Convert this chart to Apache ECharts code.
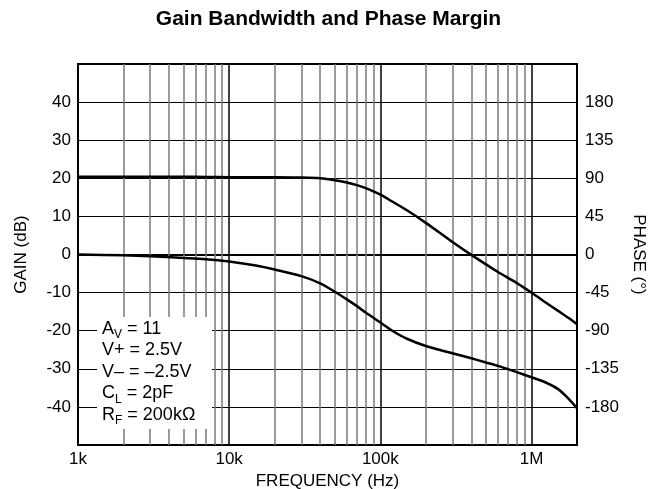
<!DOCTYPE html>
<html>
<head>
<meta charset="utf-8">
<script src="https://cdn.jsdelivr.net/npm/echarts@6/dist/echarts.min.js"></script>
<style>
  html, body { margin: 0; padding: 0; background: #fff; }
  #chart { width: 657px; height: 489px; }
</style>
</head>
<body>
<div id="chart"></div>
<script>
// frequency points (Hz)
var freq = [1000, 2000, 3000, 5000, 7000, 10000, 15000, 20000, 30000, 40000, 50000, 60000,
            70000, 80000, 100000, 120000, 150000, 200000, 300000, 400000, 500000, 600000,
            800000, 1000000, 1200000, 1500000, 1750000, 2000000];
// gain, dB (left axis)
var gain = [20.4, 20.4, 20.4, 20.4, 20.35, 20.3, 20.3, 20.3, 20.2, 20.0, 19.5, 18.9,
            18.2, 17.4, 15.7, 13.9, 11.6, 8.3, 3.3, -0.1, -2.6, -4.6,
            -7.5, -10, -12.2, -14.8, -16.6, -18.3];
// phase, degrees (right axis)
var phase = [0, -1, -2, -4, -5.5, -8.3, -13, -17.7, -25.5, -34, -44, -53,
             -61, -68.5, -80.3, -90, -99.5, -108, -116.7, -122.6, -127.5, -131.5,
             -139, -145, -150, -159, -170, -181.5];

var xTickLabels = { 1000: '1k', 10000: '10k', 100000: '100k', 1000000: '1M' };
var notes = ['{n|A}{s|V}{n| = 11}', '{n|V+ = 2.5V}', '{n|V\u2013 = \u20132.5V}',
             '{n|C}{s|L}{n| = 2pF}', '{n|R}{s|F}{n| = 200k\u03a9}'];

function pairs(xs, ys) {
    var out = [];
    for (var i = 0; i < xs.length; i++) out.push([xs[i], ys[i]]);
    return out;
}

// minor vertical grid: 2..9 in every decade up to 2M
var minorLines = [];
for (var d = 1000; d <= 1000000; d *= 10) {
    for (var m = 2; m <= 9; m++) {
        if (d * m < 2000000) minorLines.push({ xAxis: d * m });
    }
}

var font = 'Liberation Sans, Arial, sans-serif';
// main text sits at the top of the line box, subscripts at the bottom
var noteRich = {
    n: { fontSize: 18, fontFamily: font, color: '#000', lineHeight: 21, verticalAlign: 'top' },
    s: { fontSize: 12, fontFamily: font, color: '#000', lineHeight: 9, verticalAlign: 'bottom' }
};
var noteTexts = [];
for (var k = 0; k < notes.length; k++) {
    noteTexts.push({
        type: 'text', left: 102, top: 320 + k * 21.5, z: 101,
        style: { text: notes[k], rich: noteRich, fill: '#000' }
    });
}

var chart = echarts.init(document.getElementById('chart'));
var option = {
    backgroundColor: '#fff',
    animation: false,
    title: {
        text: 'Gain Bandwidth and Phase Margin',
        left: 'center', top: 4,
        textStyle: { fontSize: 21, fontWeight: 'bold', fontFamily: font, color: '#000' }
    },
    grid: {
        left: 78, right: 80, top: 64, bottom: 44, outerBoundsMode: 'none',
        show: true, borderColor: '#000', borderWidth: 2, backgroundColor: 'transparent'
    },
    xAxis: {
        type: 'log', logBase: 10, min: 1000, max: 2000000,
        name: 'FREQUENCY (Hz)', nameLocation: 'middle', nameGap: 25,
        nameTextStyle: { fontSize: 17, fontFamily: font, color: '#000' },
        axisLine: { lineStyle: { color: '#000', width: 2 } },
        axisTick: { show: false },
        axisLabel: {
            fontSize: 17, fontFamily: font, color: '#000', margin: 6,
            formatter: function (v) { return xTickLabels[Math.round(v)] || ''; }
        },
        splitLine: { show: true, lineStyle: { color: '#000', width: 1.5 } }
    },
    yAxis: [{
        type: 'value', min: -50, max: 50, interval: 10, position: 'left',
        name: 'GAIN (dB)', nameLocation: 'middle', nameGap: 48, nameRotate: 90,
        nameTextStyle: { fontSize: 17, fontFamily: font, color: '#000' },
        axisLine: { show: true, lineStyle: { color: '#000', width: 2 } },
        axisTick: { show: false },
        axisLabel: {
            fontSize: 17, fontFamily: font, color: '#000', margin: 7,
            formatter: function (v) { return Math.abs(v) === 50 ? '' : String(v); }
        },
        splitLine: { show: true, lineStyle: { color: '#000', width: 1 } }
    }, {
        type: 'value', min: -225, max: 225, interval: 45, position: 'right',
        name: 'PHASE (\u00b0)', nameLocation: 'middle', nameGap: 52, nameRotate: -90,
        nameTextStyle: { fontSize: 17, fontFamily: font, color: '#000' },
        axisLine: { show: true, lineStyle: { color: '#000', width: 2 } },
        axisTick: { show: false },
        axisLabel: {
            fontSize: 17, fontFamily: font, color: '#000', margin: 8,
            formatter: function (v) { return Math.abs(v) === 225 ? '' : String(v); }
        },
        splitLine: { show: false }
    }],
    graphic: [{
        type: 'rect', left: 97, top: 317, z: 100,
        shape: { width: 115, height: 112 },
        style: { fill: '#fff' }
    }].concat(noteTexts),
    series: [{
        name: 'grid', type: 'line', data: [], silent: true,
        markLine: {
            silent: true, symbol: 'none', label: { show: false },
            lineStyle: { color: '#7a7a7a', width: 1.5, type: 'solid' },
            data: minorLines
        }
    }, {
        name: 'Gain', type: 'line', yAxisIndex: 0, z: 5,
        data: pairs(freq, gain), smooth: 0.3, showSymbol: false,
        lineStyle: { color: '#000', width: 2.5 }
    }, {
        name: 'Phase', type: 'line', yAxisIndex: 1, z: 5,
        data: pairs(freq, phase), smooth: 0.3, showSymbol: false,
        lineStyle: { color: '#000', width: 2.5 }
    }]
};
chart.setOption(option);
</script>
</body>
</html>
